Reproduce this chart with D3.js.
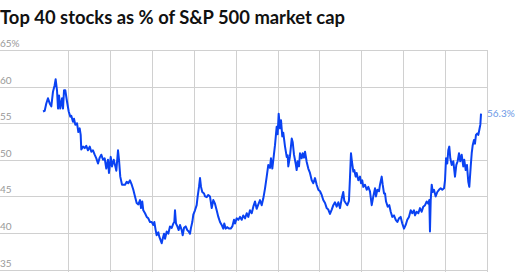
<!DOCTYPE html>
<html lang="en">
<head>
  <meta charset="UTF-8">
  <title>Top 40 stocks as % of S&amp;P 500 market cap</title>
  <style>
    body {
      margin: 0;
      background-color: #fff;
      font-family: "Source Sans Pro", "Lato", "Noto Sans", Arial, sans-serif;
    }

    #chart svg {
      display: block;
    }

    .grid line {
      stroke: #d0d0d0;
      stroke-width: 1;
      shape-rendering: crispEdges;
    }

    .tick-label {
      font-size: 10px;
      fill: #999;
    }

    .series {
      fill: none;
      stroke: #0a42f2;
      stroke-width: 2;
      stroke-linejoin: round;
    }
  </style>
</head>
<body>
  <div id="chart"></div>

  <script src="https://d3js.org/d3.v7.min.js"></script>
  <script>
    // Share of the S&P 500 market cap held by the 40 largest stocks (%)
    const years = [
      1971.98, 1972.18, 1972.37, 1972.57, 1972.78, 1972.97, 1973.17, 1973.37, 1973.49, 1973.65,
      1973.77, 1973.89, 1974.04, 1974.25, 1974.37, 1974.49, 1974.64, 1974.84, 1975.05, 1975.24,
      1975.36, 1975.56, 1975.68, 1975.84, 1976.04, 1976.20, 1976.36, 1976.48, 1976.55, 1976.76,
      1976.96, 1977.15, 1977.35, 1977.56, 1977.75, 1977.95, 1978.15, 1978.35, 1978.55, 1978.75,
      1978.94, 1979.15, 1979.35, 1979.54, 1979.74, 1979.86, 1980.07, 1980.22, 1980.43, 1980.62,
      1980.74, 1980.94, 1981.06, 1981.21, 1981.42, 1981.78, 1981.98, 1982.17, 1982.37, 1982.58,
      1982.77, 1982.97, 1983.17, 1983.37, 1983.57, 1983.69, 1983.84, 1983.96, 1984.17, 1984.37,
      1984.56, 1984.76, 1984.97, 1985.16, 1985.28, 1985.44, 1985.56, 1985.76, 1985.87, 1986.04,
      1986.16, 1986.28, 1986.44, 1986.56, 1986.76, 1986.95, 1987.15, 1987.36, 1987.55, 1987.67,
      1987.75, 1987.87, 1988.03, 1988.19, 1988.35, 1988.55, 1988.67, 1988.83, 1989.03, 1989.22,
      1989.39, 1989.54, 1989.66, 1989.82, 1989.94, 1990.14, 1990.34, 1990.46, 1990.62, 1990.74,
      1990.86, 1991.01, 1991.22, 1991.34, 1991.54, 1991.73, 1991.93, 1992.14, 1992.33, 1992.53,
      1992.73, 1992.93, 1993.13, 1993.33, 1993.52, 1993.64, 1993.81, 1994.00, 1994.20, 1994.41,
      1994.60, 1994.80, 1994.92, 1995.12, 1995.32, 1995.52, 1995.72, 1995.91, 1996.12, 1996.32,
      1996.51, 1996.71, 1996.92, 1997.11, 1997.31, 1997.51, 1997.71, 1997.91, 1998.11, 1998.30,
      1998.51, 1998.71, 1998.90, 1999.10, 1999.22, 1999.38, 1999.50, 1999.70, 1999.90, 2000.02,
      2000.14, 2000.30, 2000.42, 2000.57, 2000.69, 2000.90, 2001.10, 2001.22, 2001.29, 2001.49,
      2001.70, 2001.82, 2001.97, 2002.17, 2002.29, 2002.41, 2002.57, 2002.69, 2002.89, 2003.01,
      2003.17, 2003.29, 2003.49, 2003.68, 2003.88, 2004.09, 2004.28, 2004.48, 2004.68, 2004.88,
      2005.08, 2005.28, 2005.47, 2005.68, 2005.88, 2006.07, 2006.27, 2006.48, 2006.67, 2006.87,
      2007.07, 2007.27, 2007.47, 2007.67, 2007.86, 2007.98, 2008.15, 2008.34, 2008.54, 2008.66,
      2008.78, 2008.90, 2009.06, 2009.18, 2009.34, 2009.46, 2009.66, 2009.86, 2009.98, 2010.13,
      2010.25, 2010.46, 2010.66, 2010.85, 2011.05, 2011.26, 2011.45, 2011.65, 2011.77, 2011.93,
      2012.13, 2012.25, 2012.45, 2012.57, 2012.73, 2012.85, 2012.97, 2013.17, 2013.36, 2013.53,
      2013.72, 2013.92, 2014.13, 2014.32, 2014.52, 2014.72, 2014.91, 2015.12, 2015.32, 2015.51,
      2015.71, 2015.92, 2016.11, 2016.31, 2016.43, 2016.63, 2016.83, 2017.03, 2017.23, 2017.42,
      2017.63, 2017.83, 2018.02, 2018.14, 2018.22, 2018.31, 2018.43, 2018.55, 2018.70, 2018.90,
      2019.10, 2019.30, 2019.50, 2019.69, 2019.90, 2020.02, 2020.14, 2020.29, 2020.41, 2020.53,
      2020.65, 2020.82, 2021.01, 2021.21, 2021.37, 2021.53, 2021.69, 2021.84, 2022.01, 2022.20,
      2022.32, 2022.49, 2022.64, 2022.80, 2022.92, 2023.09, 2023.21, 2023.33, 2023.48, 2023.60,
      2023.72, 2023.88, 2024.00, 2024.12, 2024.24, 2024.32
    ];

    const share = [
      56.6, 56.7, 57.7, 58.4, 57.7, 57.3, 59.3, 60.2, 61.0, 59.5,
      57.0, 58.8, 57.0, 58.4, 57.0, 59.5, 59.5, 58.0, 56.6, 55.9,
      56.0, 55.2, 55.6, 54.8, 55.0, 53.8, 54.3, 53.4, 51.4, 51.8,
      51.6, 51.9, 51.3, 51.8, 51.1, 51.3, 50.7, 50.2, 49.5, 50.3,
      50.7, 50.0, 50.2, 48.8, 50.0, 48.2, 50.4, 49.1, 50.0, 49.1,
      48.5, 51.3, 50.0, 47.7, 46.6, 46.6, 47.0, 46.8, 47.2, 46.6,
      45.9, 45.0, 44.1, 43.9, 44.5, 43.4, 44.3, 43.1, 42.7, 42.2,
      42.0, 41.5, 41.5, 41.1, 41.5, 40.4, 39.7, 40.1, 39.5, 39.0,
      38.6, 39.2, 39.9, 39.2, 40.2, 39.9, 40.9, 40.7, 41.3, 41.5,
      43.1, 41.3, 40.9, 40.4, 41.1, 40.4, 39.7, 40.7, 40.9, 40.4,
      40.2, 39.9, 40.7, 41.5, 42.5, 43.1, 43.8, 45.0, 46.3, 47.5,
      46.3, 45.6, 45.4, 45.0, 44.9, 45.2, 45.0, 43.4, 44.5, 44.0,
      43.1, 42.2, 41.5, 41.1, 40.6, 41.3, 40.6, 40.8, 40.6, 40.6,
      40.9, 41.8, 41.3, 42.0, 41.8, 42.2, 41.8, 42.4, 42.0, 42.7,
      42.2, 43.1, 42.7, 43.6, 44.3, 43.3, 43.9, 44.5, 43.8, 44.7,
      46.1, 47.7, 49.3, 48.9, 50.2, 48.8, 50.0, 52.0, 54.5, 53.5,
      56.3, 54.3, 55.4, 53.2, 53.7, 51.8, 50.4, 50.6, 49.1, 50.5,
      52.9, 52.4, 50.7, 49.5, 48.6, 49.8, 49.1, 50.9, 50.2, 50.9,
      50.3, 51.1, 49.7, 48.8, 48.2, 47.2, 46.8, 47.5, 46.6, 45.9,
      45.7, 45.2, 44.5, 44.1, 43.4, 43.2, 42.6, 43.2, 43.8, 44.2,
      43.6, 44.2, 43.4, 44.7, 45.6, 44.4, 44.1, 43.8, 44.4, 47.5,
      50.9, 49.7, 48.4, 48.6, 47.7, 48.2, 47.2, 47.7, 46.8, 47.2,
      46.3, 46.6, 45.9, 46.3, 45.7, 43.8, 45.0, 46.1, 45.0, 45.9,
      45.7, 46.6, 47.7, 46.6, 45.4, 45.4, 44.3, 43.6, 43.8, 42.9,
      42.2, 42.4, 41.8, 41.5, 42.0, 42.2, 41.3, 40.6, 41.1, 41.8,
      42.2, 43.1, 42.7, 43.1, 42.4, 42.9, 42.7, 43.4, 42.9, 43.6,
      43.8, 44.3, 44.0, 44.5, 40.2, 44.5, 46.6, 45.6, 45.9, 45.0,
      45.6, 45.9, 46.1, 45.9, 46.1, 47.2, 50.2, 49.5, 51.3, 51.8,
      50.2, 49.3, 49.8, 47.7, 49.3, 49.8, 50.9, 49.8, 50.7, 49.1,
      50.0, 48.6, 49.3, 47.0, 46.3, 49.1, 50.9, 52.0, 52.7, 52.2,
      53.4, 53.6, 53.4, 54.1, 54.8, 56.3
    ];

    const yTicks = [35, 40, 45, 50, 55, 60, 65];
    const xTicks = [1975, 1980, 1985, 1990, 1995, 2000, 2005, 2010, 2015, 2020, 2025];
    const title = 'Top 40 stocks as % of S&P 500 market cap';

    const width = 520;
    const height = 272;

    const svg = d3.select('#chart')
      .append('svg')
      .attr('width', width)
      .attr('height', height);

    // Scales
    const xScale = d3.scaleLinear()
      .domain([1975, 2025])
      .range([68.3, 486.7]);

    const yScale = d3.scaleLinear()
      .domain([35, 65])
      .range([269.6, 50]);

    const plotLeft = 0;
    const plotRight = xScale(2025);

    // Title
    svg.append('text')
      .attr('x', 0)
      .attr('y', 24)
      .style('font-size', '18.6px')
      .style('font-weight', 700)
      .style('fill', '#111')
      .attr('textLength', 345)
      .attr('lengthAdjust', 'spacingAndGlyphs')
      .text(title);

    // Gridlines
    const grid = svg.append('g').attr('class', 'grid');

    grid.selectAll('.hline')
      .data(yTicks)
      .enter()
      .append('line')
      .attr('class', 'hline')
      .attr('x1', plotLeft)
      .attr('x2', plotRight)
      .attr('y1', d => Math.round(yScale(d)) + 0.5)
      .attr('y2', d => Math.round(yScale(d)) + 0.5);

    grid.selectAll('.vline')
      .data(xTicks)
      .enter()
      .append('line')
      .attr('class', 'vline')
      .attr('x1', d => Math.round(xScale(d)) + 0.5)
      .attr('x2', d => Math.round(xScale(d)) + 0.5)
      .attr('y1', yScale(65))
      .attr('y2', height);

    // Y labels sit just above their gridline
    svg.selectAll('.ylabel')
      .data(yTicks)
      .enter()
      .append('text')
      .attr('class', 'tick-label')
      .attr('x', 0)
      .attr('y', d => yScale(d) - 3)
      .text(d => d === 65 ? d + '%' : d);

    // Series line
    const points = years.map((y, i) => [y, share[i]]);

    const line = d3.line()
      .x(d => xScale(d[0]))
      .y(d => yScale(d[1]));

    svg.append('path')
      .datum(points)
      .attr('class', 'series')
      .attr('d', line);

    // End label
    const last = points[points.length - 1];
    svg.append('text')
      .attr('x', xScale(last[0]) + 6)
      .attr('y', yScale(last[1]) + 3.5)
      .style('font-size', '10px')
      .style('fill', '#6b98e6')
      .text(last[1].toFixed(1) + '%');
  </script>
</body>
</html>
